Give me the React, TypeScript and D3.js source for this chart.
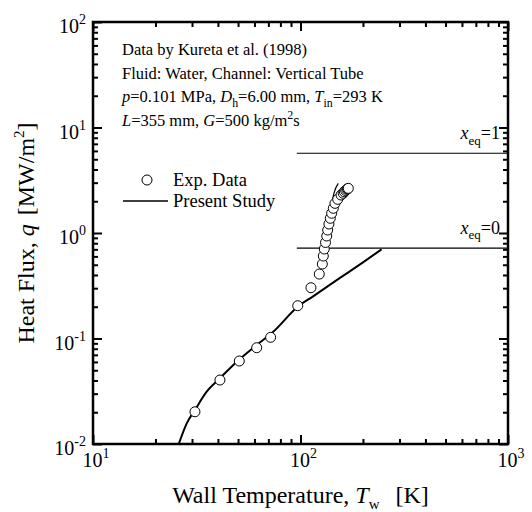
import React, { useEffect, useRef } from 'react';
import * as d3 from 'd3';

// axis decades
const tempTicks = [10, 100, 1000];
const tempExp = ['1', '2', '3'];
const fluxTicks = [0.01, 0.1, 1, 10, 100];
const fluxExp = ['-2', '-1', '0', '1', '2'];

// Exp. Data (Kureta et al.)
const expT = [31.0, 40.9, 50.7, 61.5, 71.8, 97.0, 112.3, 123.2, 127.4, 128.8, 130.2, 132.0, 133.8, 135.2,
  137.1, 139.2, 141.3, 143.9, 146.6, 151.1, 156.8, 160.5, 162.6, 165.0, 167.0, 168.5, 170.0];
const expQ = [0.0202, 0.0404, 0.0612, 0.0818, 0.1026, 0.2046, 0.303, 0.408, 0.508, 0.605, 0.705, 0.813, 0.937, 1.067,
  1.217, 1.378, 1.538, 1.714, 1.91, 2.085, 2.29, 2.38, 2.46, 2.53, 2.59, 2.62, 2.65];

// Present Study - single phase branch
const modelT = [25.8, 28.3, 31.0, 35.3, 40.9, 49.3, 61.5, 73.9, 97.0, 115, 155, 200, 246];
const modelQ = [0.0098, 0.0157, 0.021, 0.0313, 0.042, 0.0603, 0.0868, 0.116, 0.2, 0.251, 0.375, 0.527, 0.70];
// Present Study - boiling branch
const boilT = [128, 132, 137, 141, 145, 152];
const boilQ = [0.6, 0.95, 1.4, 1.85, 2.39, 2.95];

// equilibrium quality lines
const xeqLabels = ['1', '0'];
const xeqQ = [5.7, 0.72];
const xeqStartT = 96;

const legendLabels = ['Exp. Data', 'Present Study'];

type Seg = [string, string];
const infoLines: Seg[][] = [
  [['Data by Kureta et al. (1998)', 'n']],
  [['Fluid: Water, Channel: Vertical Tube', 'n']],
  [['p', 'i'], ['=0.101 MPa, ', 'n'], ['D', 'i'], ['h', 'sub'], ['=6.00 mm, ', 'n'], ['T', 'i'], ['in', 'sub'], ['=293 K', 'n']],
  [['L', 'i'], ['=355 mm, ', 'n'], ['G', 'i'], ['=500 kg/m', 'n'], ['2', 'sup'], ['s', 'n']],
];

const FONT = '"Liberation Serif", "Times New Roman", serif';

function addSegs(text: any, segs: Seg[], size: number) {
  let cur = 0;
  segs.forEach(([s, st]) => {
    const target = st === 'sub' ? size * 0.3 : st === 'sup' ? -size * 0.4 : 0;
    const t = text.append('tspan').text(s).attr('dy', target - cur);
    if (st === 'i') t.attr('font-style', 'italic');
    if (st === 'sub' || st === 'sup') t.attr('font-size', size * 0.72);
    cur = target;
  });
}

const Chart = () => {
  const svgRef = useRef(null);

  useEffect(() => {
    const width = 532;
    const height = 512;
    const margin = { top: 22, right: 24, bottom: 68, left: 93 };

    const svg = d3.select(svgRef.current)
      .attr('width', width)
      .attr('height', height)
      .style('font-family', FONT);
    svg.selectAll('*').remove();

    const x = d3.scaleLog().domain([10, 1000]).range([margin.left, width - margin.right]);
    const y = d3.scaleLog().domain([0.01, 100]).range([height - margin.bottom, margin.top]);

    const minorT: number[] = [];
    [10, 100].forEach(d => { for (let m = 2; m <= 9; m++) minorT.push(d * m); });
    const minorQ: number[] = [];
    [0.01, 0.1, 1, 10].forEach(d => { for (let m = 2; m <= 9; m++) minorQ.push(d * m); });

    const x0 = margin.left, x1 = width - margin.right;
    const y0 = height - margin.bottom, y1 = margin.top;

    // inward ticks on all four sides
    const tickGroup = (axis: any, vals: number[], size: number, tr: string) => {
      const g = svg.append('g').attr('transform', tr)
        .call(axis.tickValues(vals).tickSize(-size).tickFormat(() => ''));
      g.select('.domain').remove();
      g.selectAll('line').attr('stroke', '#000').attr('stroke-width', 2);
    };
    tickGroup(d3.axisBottom(x), tempTicks, 9, `translate(0,${y0})`);
    tickGroup(d3.axisBottom(x), minorT, 5, `translate(0,${y0})`);
    tickGroup(d3.axisTop(x), tempTicks, 9, `translate(0,${y1})`);
    tickGroup(d3.axisTop(x), minorT, 5, `translate(0,${y1})`);
    tickGroup(d3.axisLeft(y), fluxTicks, 9, `translate(${x0},0)`);
    tickGroup(d3.axisLeft(y), minorQ, 5, `translate(${x0},0)`);
    tickGroup(d3.axisRight(y), fluxTicks, 9, `translate(${x1},0)`);
    tickGroup(d3.axisRight(y), minorQ, 5, `translate(${x1},0)`);

    svg.append('rect')
      .attr('x', x0).attr('y', y1)
      .attr('width', x1 - x0).attr('height', y0 - y1)
      .attr('fill', 'none').attr('stroke', '#000').attr('stroke-width', 2.5);

    // tick labels
    tempTicks.forEach((t, i) => {
      const tx = svg.append('text')
        .attr('x', x(t) + 3).attr('y', y0 + 23)
        .attr('text-anchor', 'middle').attr('font-size', 20);
      tx.append('tspan').text('10');
      tx.append('tspan').text(tempExp[i]).attr('dy', -9).attr('font-size', 14);
    });
    fluxTicks.forEach((q, i) => {
      const tx = svg.append('text')
        .attr('x', x0 - 7).attr('y', y(q) + 11)
        .attr('text-anchor', 'end').attr('font-size', 20);
      tx.append('tspan').text('10');
      tx.append('tspan').text(fluxExp[i]).attr('dy', -9).attr('font-size', 14);
    });

    // axis titles
    const xt = svg.append('text')
      .attr('x', (x0 + x1) / 2).attr('y', 503)
      .attr('text-anchor', 'middle').attr('font-size', 24);
    xt.append('tspan').text('Wall Temperature, ');
    xt.append('tspan').text('T').attr('font-style', 'italic');
    xt.append('tspan').text('w').attr('font-size', 15).attr('dy', 6);
    xt.append('tspan').text('[K]').attr('dy', -6).attr('dx', 16);

    const yt = svg.append('text')
      .attr('transform', `translate(34,${(y0 + y1) / 2}) rotate(-90)`)
      .attr('text-anchor', 'middle').attr('font-size', 24);
    yt.append('tspan').text('Heat Flux, ');
    yt.append('tspan').text('q').attr('font-style', 'italic');
    yt.append('tspan').text('[MW/m').attr('dx', 9);
    yt.append('tspan').text('2').attr('font-size', 15).attr('dy', -10);
    yt.append('tspan').text(']').attr('dy', 10);

    // info block
    infoLines.forEach((segs, i) => {
      const tx = svg.append('text')
        .attr('x', 122).attr('y', 55 + i * 23.5)
        .attr('font-size', 16.5);
      addSegs(tx, segs, 16.5);
    });

    // x_eq lines
    xeqQ.forEach((q, i) => {
      svg.append('line')
        .attr('x1', x(xeqStartT)).attr('x2', x1)
        .attr('y1', y(q)).attr('y2', y(q))
        .attr('stroke', '#000').attr('stroke-width', 1.2);
      const tx = svg.append('text')
        .attr('x', x1 - 8).attr('y', y(q) - 14)
        .attr('text-anchor', 'end').attr('font-size', 18);
      addSegs(tx, [['x', 'i'], ['eq', 'sub'], ['=' + xeqLabels[i], 'n']], 18);
    });

    // present study
    const line = d3.line<number>()
      .x(d => d[0])
      .y(d => d[1])
      .curve(d3.curveMonotoneX);
    const mPts: any = modelT.map((t, i) => [x(t), y(modelQ[i])]);
    const bPts: any = boilT.map((t, i) => [x(t), y(boilQ[i])]);
    svg.append('path').attr('d', line(mPts))
      .attr('fill', 'none').attr('stroke', '#000').attr('stroke-width', 2);
    svg.append('path').attr('d', line(bPts))
      .attr('fill', 'none').attr('stroke', '#000').attr('stroke-width', 1.2);

    // exp data
    svg.selectAll('.pt')
      .data(expT)
      .enter()
      .append('circle')
      .attr('class', 'pt')
      .attr('cx', d => x(d))
      .attr('cy', (d, i) => y(expQ[i]))
      .attr('r', 5)
      .attr('fill', '#fff')
      .attr('stroke', '#000')
      .attr('stroke-width', 1);

    // legend
    svg.append('circle').attr('cx', 147).attr('cy', 180).attr('r', 5)
      .attr('fill', '#fff').attr('stroke', '#000').attr('stroke-width', 1);
    svg.append('line').attr('x1', 123).attr('x2', 168).attr('y1', 201).attr('y2', 201)
      .attr('stroke', '#000').attr('stroke-width', 1.5);
    legendLabels.forEach((l, i) => {
      svg.append('text').attr('x', 173).attr('y', 186 + i * 21)
        .attr('font-size', 18.5).text(l);
    });
  }, []);

  return <svg ref={svgRef} style={{ position: 'absolute', left: 0, top: 0, display: 'block', background: '#fff' }}></svg>;
};

export default function App() {
  return <Chart />;
}
